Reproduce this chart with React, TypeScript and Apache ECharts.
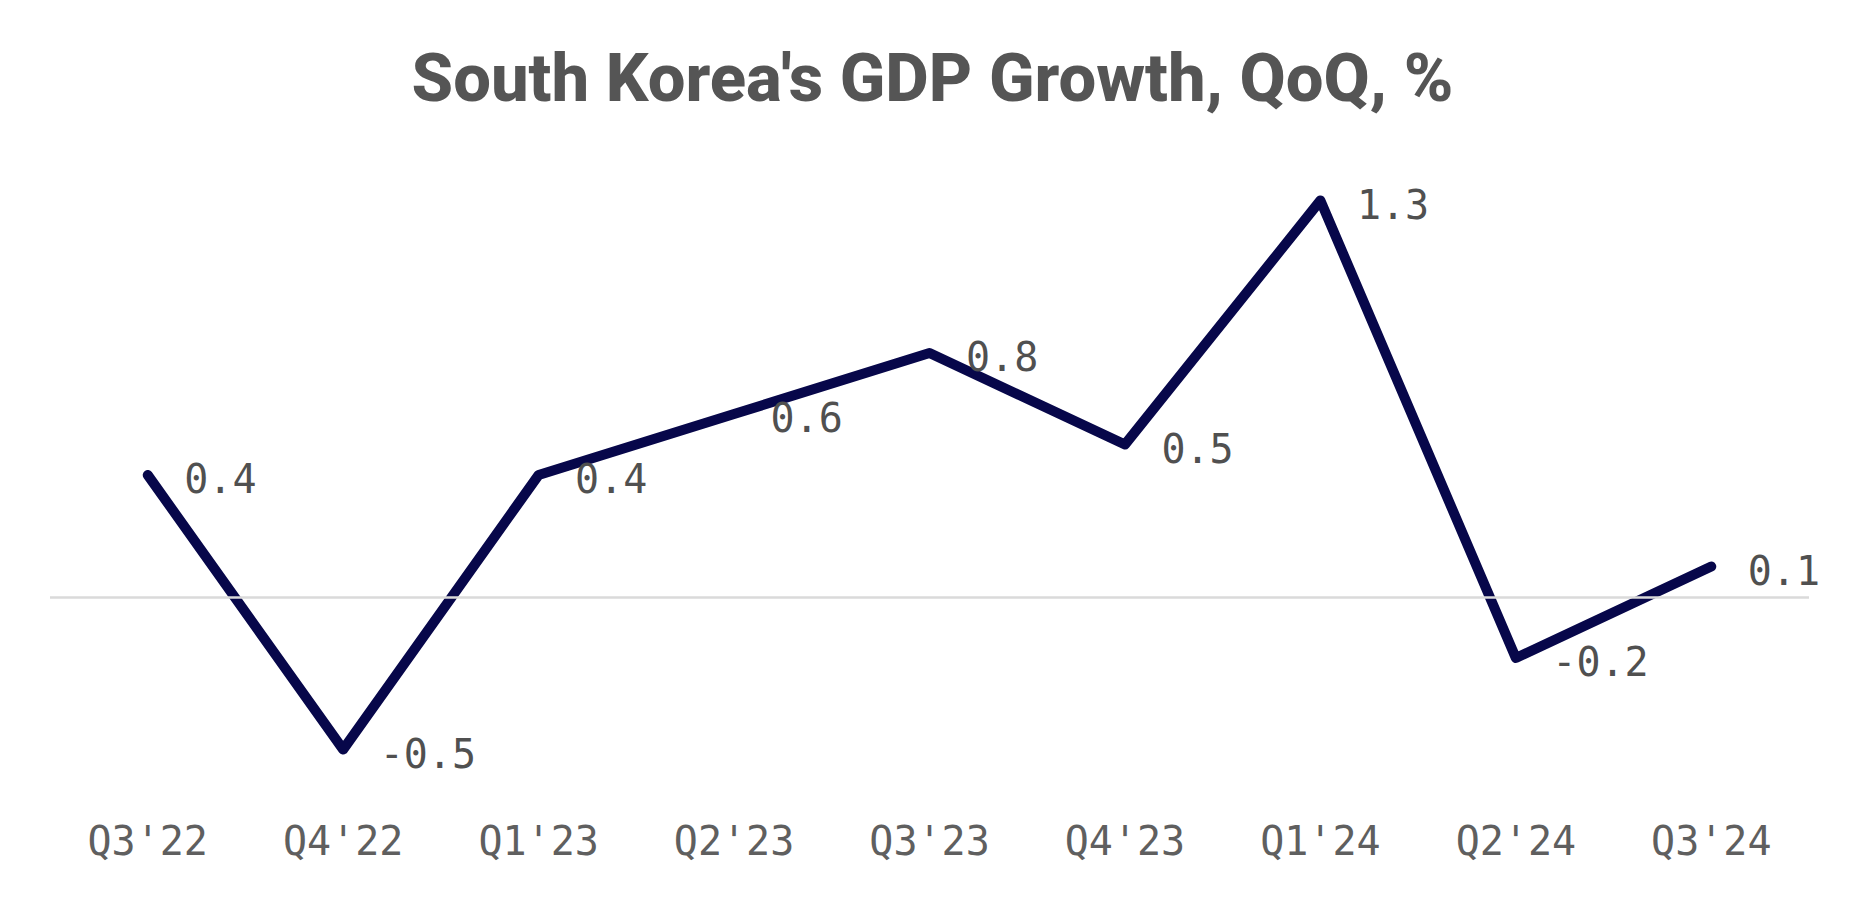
import React, { useEffect, useRef } from "react";
import * as echarts from "echarts";

const titleText = "South Korea's GDP Growth, QoQ, %";
const quarters = ["Q3'22", "Q4'22", "Q1'23", "Q2'23", "Q3'23", "Q4'23", "Q1'24", "Q2'24", "Q3'24"];
const gdpGrowth = [0.4, -0.5, 0.4, 0.6, 0.8, 0.5, 1.3, -0.2, 0.1];

export default function App() {
  const ref = useRef<HTMLDivElement>(null);
  useEffect(() => {
    if (!ref.current) return;
    const chart = echarts.init(ref.current, null, { renderer: "svg" });
    chart.setOption({
      animation: false,
      backgroundColor: "#ffffff",
      title: {
        text: titleText,
        left: "center",
        top: 39,
        textStyle: {
          fontFamily: "Roboto",
          fontWeight: 800,
          fontSize: 67,
          color: "#555555",
        },
      },
      grid: { left: 50, right: 56, top: 139.5, bottom: 87.5 },
      xAxis: {
        type: "category",
        data: quarters,
        boundaryGap: true,
        axisLine: { show: false },
        axisTick: { show: false },
        axisLabel: {
          fontFamily: "DejaVu Sans Mono",
          fontSize: 40,
          color: "#5f5f5f",
          margin: 10,
        },
      },
      yAxis: {
        type: "value",
        min: -0.7,
        max: 1.5,
        show: false,
        splitLine: { show: false },
      },
      series: [
        {
          type: "line",
          data: gdpGrowth,
          symbol: "circle",
          symbolSize: 1,
          showSymbol: true,
          itemStyle: { color: "#07074a" },
          lineStyle: { color: "#07074a", width: 10, cap: "round", join: "round" },
          label: {
            show: true,
            position: "right",
            distance: 36,
            offset: [0, 4],
            fontFamily: "DejaVu Sans Mono",
            fontSize: 40,
            color: "#505050",
          },
          markLine: {
            silent: true,
            symbol: "none",
            label: { show: false },
            lineStyle: { color: "#dadada", width: 2.5, type: "solid" },
            data: [{ yAxis: 0 }],
          },
          z: 3,
        },
      ],
    });
    return () => chart.dispose();
  }, []);
  return (
    <div
      ref={ref}
      style={{ position: "fixed", left: 0, top: 0, width: 1865, height: 898 }}
    />
  );
}
